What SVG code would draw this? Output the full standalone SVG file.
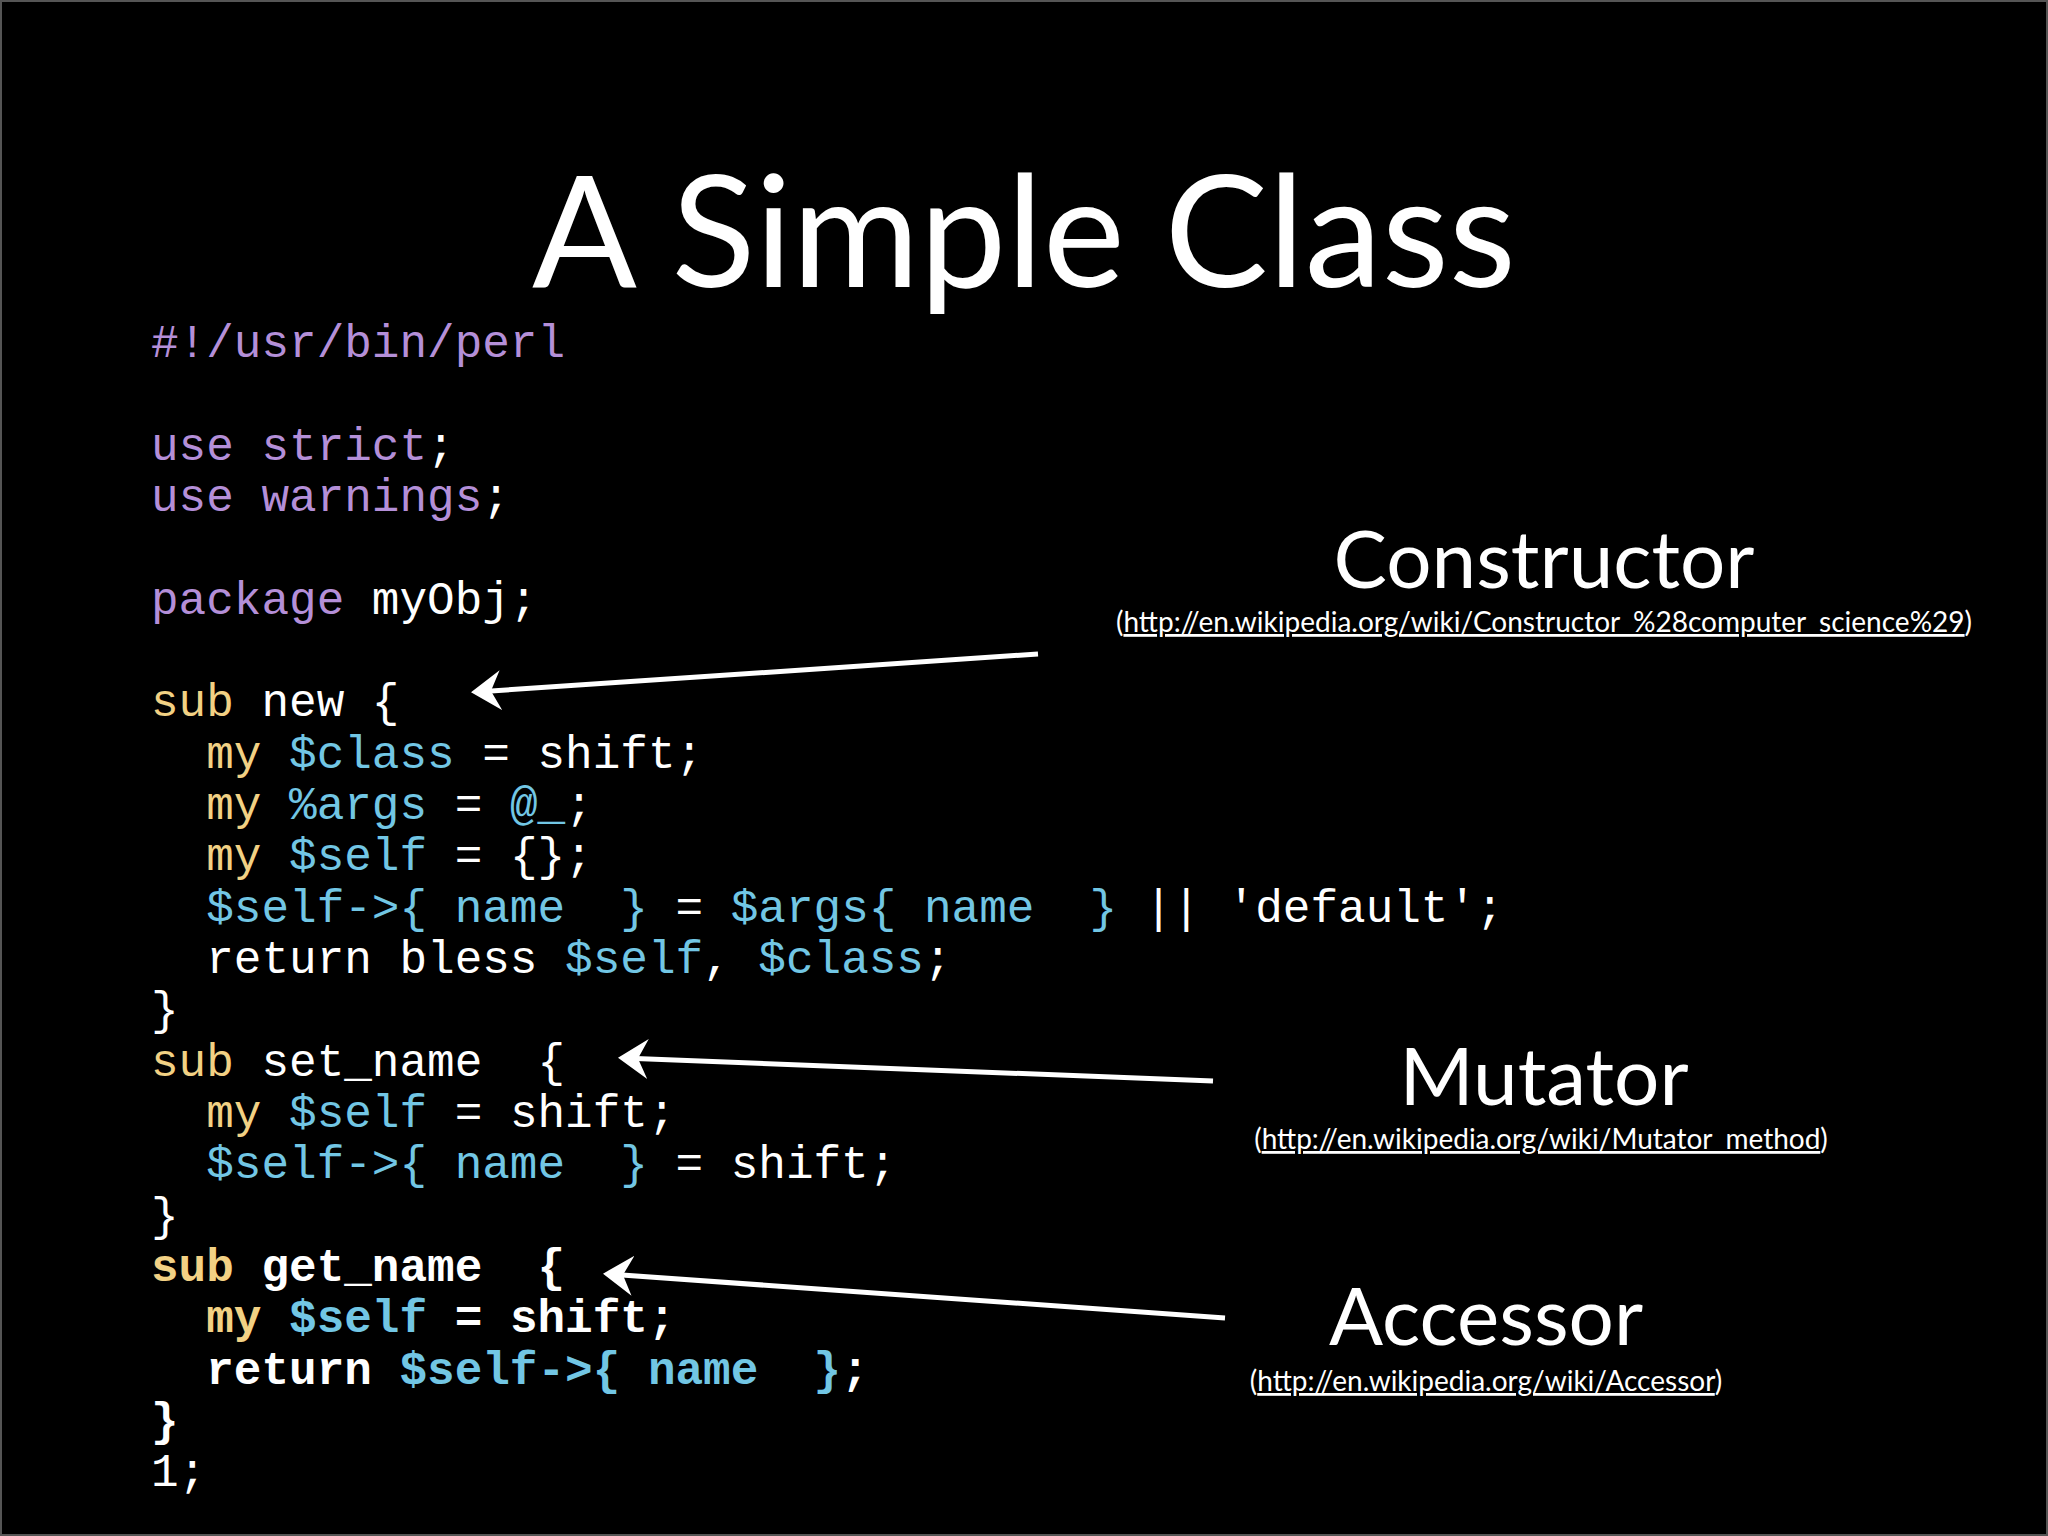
<svg xmlns="http://www.w3.org/2000/svg" width="2048" height="1536" viewBox="0 0 2048 1536">
<style>
.c{font-family:"Liberation Mono","DejaVu Sans Mono",monospace;font-size:46px;fill:#ffffff;white-space:pre}
.p{fill:#b48fd8}.y{fill:#f2d184}.b{fill:#72c6e4}.w{fill:#fff}
.bd{font-weight:bold}
.h{font-family:"Lato","Open Sans",sans-serif;fill:#fff;text-anchor:middle}
.u{font-family:"Lato","Open Sans",sans-serif;fill:#fff;font-size:28px;text-anchor:middle}
.a{stroke:#fff;stroke-width:5;fill:none}
</style>
<defs><marker id="ar" markerWidth="8" markerHeight="8" refX="5" refY="4" orient="auto" markerUnits="strokeWidth"><path d="M0,0 L6,4 L0,8 L2,4 Z" fill="#fff"/></marker></defs>
<rect x="0" y="0" width="2048" height="1536" fill="#000"/>
<rect x="1" y="1" width="2046" height="1534" fill="none" stroke="#555" stroke-width="2"/>
<text class="h" x="1024" y="287" font-size="155">A Simple Class</text>
<g id="code" xml:space="preserve">
<text class="c p" x="151" y="357">#!/usr/bin/perl</text>
<text class="c" x="151" y="460"><tspan class="p">use strict</tspan>;</text>
<text class="c" x="151" y="511"><tspan class="p">use warnings</tspan>;</text>
<text class="c" x="151" y="614"><tspan class="p">package</tspan> myObj;</text>
<text class="c" x="151" y="716"><tspan class="y">sub</tspan> new {</text>
<text class="c" x="151" y="768">  <tspan class="y">my</tspan> <tspan class="b">$class</tspan> = shift;</text>
<text class="c" x="151" y="819">  <tspan class="y">my</tspan> <tspan class="b">%args</tspan> = <tspan class="b">@_</tspan>;</text>
<text class="c" x="151" y="870">  <tspan class="y">my</tspan> <tspan class="b">$self</tspan> = {};</text>
<text class="c" x="151" y="922">  <tspan class="b">$self-&gt;{ name  }</tspan> = <tspan class="b">$args{ name  }</tspan> || 'default';</text>
<text class="c" x="151" y="973">  return bless <tspan class="b">$self</tspan>, <tspan class="b">$class</tspan>;</text>
<text class="c" x="151" y="1024">}</text>
<text class="c" x="151" y="1076"><tspan class="y">sub</tspan> set_name  {</text>
<text class="c" x="151" y="1127">  <tspan class="y">my</tspan> <tspan class="b">$self</tspan> = shift;</text>
<text class="c" x="151" y="1178">  <tspan class="b">$self-&gt;{ name  }</tspan> = shift;</text>
<text class="c" x="151" y="1230">}</text>
<text class="c bd" x="151" y="1281"><tspan class="y">sub</tspan> get_name  {</text>
<text class="c bd" x="151" y="1332">  <tspan class="y">my</tspan> <tspan class="b">$self</tspan> = shift;</text>
<text class="c bd" x="151" y="1384">  return <tspan class="b">$self-&gt;{ name  }</tspan>;</text>
<text class="c bd" x="151" y="1435">}</text>
<text class="c" x="151" y="1486">1;</text>
</g>
<g id="constructor">
<text class="h" x="1544" y="588" font-size="80">Constructor</text>
<text class="u" x="1544" y="632">(<tspan text-decoration="underline">http://en.wikipedia.org/wiki/Constructor_%28computer_science%29</tspan>)</text>
</g>
<g id="mutator">
<text class="h" x="1544" y="1105" font-size="80">Mutator</text>
<text class="u" x="1541" y="1149">(<tspan text-decoration="underline">http://en.wikipedia.org/wiki/Mutator_method</tspan>)</text>
</g>
<g id="accessor">
<text class="h" x="1486" y="1345" font-size="80">Accessor</text>
<text class="u" x="1486" y="1391">(<tspan text-decoration="underline">http://en.wikipedia.org/wiki/Accessor</tspan>)</text>
</g>
<g id="connectors">
<line class="a" x1="1038" y1="654" x2="476" y2="692" marker-end="url(#ar)"/>
<line class="a" x1="1213" y1="1081" x2="623" y2="1058" marker-end="url(#ar)"/>
<line class="a" x1="1225" y1="1318" x2="608" y2="1274" marker-end="url(#ar)"/>
</g>
</svg>
